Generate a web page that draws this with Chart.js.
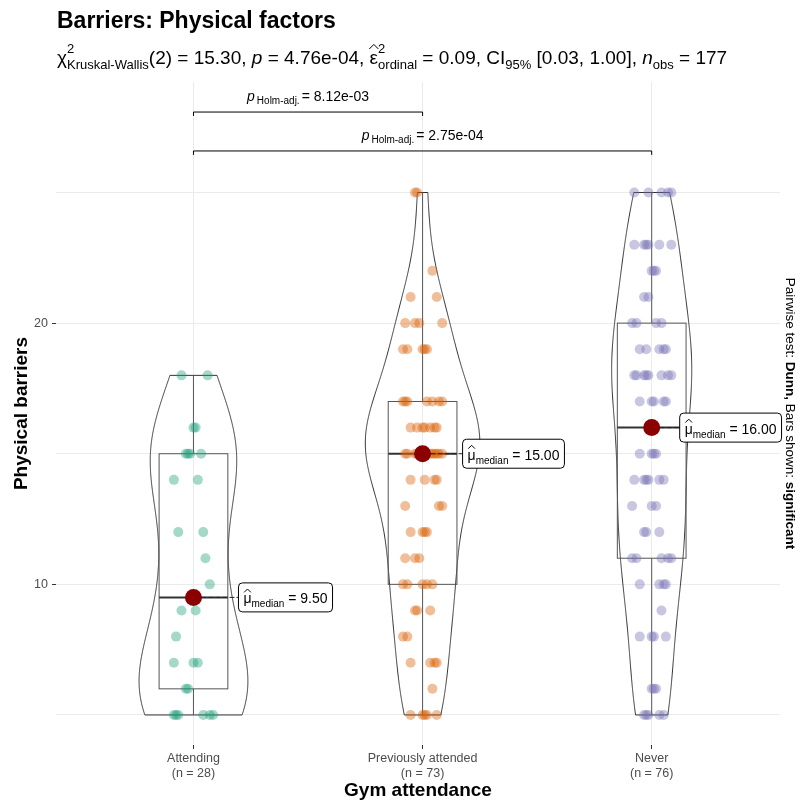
<!DOCTYPE html>
<html>
<head>
<meta charset="utf-8">
<script src="https://cdn.jsdelivr.net/npm/chart.js@4.4.1/dist/chart.umd.min.js"></script>
<style>
  html, body { margin: 0; padding: 0; background: #fff; }
</style>
</head>
<body>
<canvas id="myChart" width="804" height="805"></canvas>
<script>
const FONT = "'Liberation Sans', Arial, sans-serif";
Chart.defaults.font.family = FONT;

const groups = ['Attending', 'Previously attended', 'Never'];
const attending = [5,5,5,5,5,5, 6,6, 7,7,7, 8, 9,9, 10, 11, 12,12, 14,14, 15,15,15,15, 16,16, 18,18];
const previouslyAttended = [5,5,5,5,5, 6, 7,7,7,7, 8,8, 9,9,9, 10,10,10,10,10, 11,11,11, 12,12,12,12,
    13,13,13, 14,14,14,14, 15,15,15,15,15,15,15,15,15,15,15, 16,16,16,16,16,16,16, 17,17,17,17,17,17,17,
    19,19,19,19,19, 20,20,20,20, 21,21, 22, 25,25];
const never = [5,5,5,5,5, 6,6,6, 8,8,8,8, 9, 10,10,10,10, 11,11,11,11,11, 12,12,12, 13,13,13,
    14,14,14,14,14,14, 15,15,15,15, 17,17,17,17,17, 18,18,18,18,18,18,18,18, 19,19,19,19,19, 20,20,20,20,
    21,21, 22,22,22, 23,23,23,23,23,23, 25,25,25,25,25];
const groupValues = [attending, previouslyAttended, never];
const groupColors = ['rgba(27,158,119,0.4)', 'rgba(217,95,2,0.4)', 'rgba(117,112,179,0.4)'];

// test results as printed on the plot
const kwStat = '15.30', kwDf = '2', kwP = '4.76e-04', epsilonSq = '0.09', ci95 = '[0.03, 1.00]', nObs = '177';
const pairs = [[1, 2], [1, 3]];
const pairP = ['8.12e-03', '2.75e-04'];
const bracketY = [28.08, 26.59];
const yTicks = [5, 10, 15, 20, 25];

// fixed jitter pattern (fractions of the jitter half-width)
const jitterPattern = [-0.55, 0.35, -0.15, 0.75, -0.9, 0.1, 0.55, -0.35, 0.9, -0.7, 0.0, 0.65, -0.25, -0.8, 0.45, 0.2];
const labelGap = [45, 40, 28];

function quantile(s, p) {
    const h = (s.length - 1) * p, lo = Math.floor(h);
    const hi = Math.min(lo + 1, s.length - 1);
    return s[lo] + (h - lo) * (s[hi] - s[lo]);
}

const stats = groupValues.map(vals => {
    const s = [...vals].sort((a, b) => a - b);
    const n = s.length;
    const q1 = quantile(s, 0.25), med = quantile(s, 0.5), q3 = quantile(s, 0.75);
    const iqr = q3 - q1;
    const lowW = s.find(v => v >= q1 - 1.5 * iqr);
    const highW = [...s].reverse().find(v => v <= q3 + 1.5 * iqr);
    const mean = s.reduce((a, b) => a + b, 0) / n;
    const sd = Math.sqrt(s.reduce((a, b) => a + (b - mean) ** 2, 0) / (n - 1));
    const bw = 0.9 * Math.min(sd, iqr / 1.34) * Math.pow(n, -0.2);
    const dens = [];
    for (let i = 0; i < 512; i++) {
        const t = s[0] + (s[n - 1] - s[0]) * i / 511;
        let d = 0;
        for (const v of s) { const z = (t - v) / bw; d += Math.exp(-0.5 * z * z); }
        dens.push({ y: t, d: d / (n * bw * Math.sqrt(2 * Math.PI)) });
    }
    return { n, q1, med, q3, lowW, highW, dens };
});
const maxDens = Math.max(...stats.map(st => Math.max(...st.dens.map(p => p.d))));

function jittered(vals, gi) {
    const seen = {};
    return vals.map(v => {
        const k = seen[v] = (seen[v] || 0) + 1;
        const off = jitterPattern[(k * 5 + v * 3 + gi * 7) % 16] * 0.095;
        return { x: gi + 1 + off, y: v };
    });
}

function fnt(p) {
    return (p.italic ? 'italic ' : '') + (p.bold ? 'bold ' : '') + p.size + 'px ' + FONT;
}
function drawHat(ctx, cx, hy, size) {
    ctx.save();
    ctx.lineWidth = 1;
    ctx.beginPath();
    ctx.moveTo(cx - size * 0.24, hy + size * 0.16);
    ctx.lineTo(cx, hy - size * 0.08);
    ctx.lineTo(cx + size * 0.24, hy + size * 0.16);
    ctx.stroke();
    ctx.restore();
}
function drawRich(ctx, parts, x, y, dry) {
    let cx = x;
    for (const p of parts) {
        if (p.stack) {
            let w = 0;
            for (const s of p.stack) {
                ctx.font = fnt(s);
                if (!dry) ctx.fillText(s.t, cx, y + s.dy);
                w = Math.max(w, ctx.measureText(s.t).width);
            }
            cx += w;
            continue;
        }
        ctx.font = fnt(p);
        const w = ctx.measureText(p.t).width;
        if (!dry) {
            ctx.fillText(p.t, cx, y + (p.dy || 0));
            if (p.hat) drawHat(ctx, cx + w / 2, y - p.size * 0.95, p.size);
        }
        cx += w + (p.gap || 0);
    }
    return cx - x;
}

const ggPlugin = {
    id: 'ggstats',
    beforeDatasetsDraw(chart) {
        const { ctx, scales: { x, y } } = chart;
        ctx.save();
        stats.forEach((st, gi) => {
            const c = gi + 1;
            // violin
            ctx.beginPath();
            st.dens.forEach((p, i) => {
                const px = x.getPixelForValue(c - 0.25 * p.d / maxDens), py = y.getPixelForValue(p.y);
                i ? ctx.lineTo(px, py) : ctx.moveTo(px, py);
            });
            [...st.dens].reverse().forEach(p => {
                ctx.lineTo(x.getPixelForValue(c + 0.25 * p.d / maxDens), y.getPixelForValue(p.y));
            });
            ctx.closePath();
            ctx.strokeStyle = '#333333';
            ctx.lineWidth = 1;
            ctx.stroke();
            // box
            const xl = x.getPixelForValue(c - 0.15), xr = x.getPixelForValue(c + 0.15), xc = x.getPixelForValue(c);
            ctx.strokeStyle = '#555555';
            ctx.beginPath();
            ctx.moveTo(xc, y.getPixelForValue(st.q3)); ctx.lineTo(xc, y.getPixelForValue(st.highW));
            ctx.moveTo(xc, y.getPixelForValue(st.q1)); ctx.lineTo(xc, y.getPixelForValue(st.lowW));
            ctx.stroke();
            ctx.strokeRect(xl, y.getPixelForValue(st.q3), xr - xl, y.getPixelForValue(st.q1) - y.getPixelForValue(st.q3));
            ctx.beginPath();
            ctx.lineWidth = 2;
            ctx.strokeStyle = '#333333';
            ctx.moveTo(xl, y.getPixelForValue(st.med)); ctx.lineTo(xr, y.getPixelForValue(st.med));
            ctx.stroke();
        });
        ctx.restore();
    },
    afterDatasetsDraw(chart) {
        const { ctx, scales: { x, y } } = chart;
        ctx.save();
        ctx.fillStyle = '#000';
        ctx.textBaseline = 'alphabetic';
        // median labels
        stats.forEach((st, gi) => {
            const px = x.getPixelForValue(gi + 1), py = y.getPixelForValue(st.med);
            const parts = [{ t: 'μ', size: 14, hat: true }, { t: 'median', size: 10, dy: 4 }, { t: ' = ' + st.med.toFixed(2), size: 14 }];
            const w = drawRich(ctx, parts, 0, 0, true);
            const bx = px + labelGap[gi], bh = 29, bw = w + 10, by = py - bh / 2;
            ctx.save();
            ctx.strokeStyle = '#222';
            ctx.lineWidth = 1;
            ctx.setLineDash([5, 2]);
            ctx.beginPath();
            ctx.moveTo(px + 8, py); ctx.lineTo(bx, py);
            ctx.stroke();
            ctx.setLineDash([]);
            const r = 4;
            ctx.beginPath();
            ctx.moveTo(bx + r, by); ctx.lineTo(bx + bw - r, by); ctx.quadraticCurveTo(bx + bw, by, bx + bw, by + r);
            ctx.lineTo(bx + bw, by + bh - r); ctx.quadraticCurveTo(bx + bw, by + bh, bx + bw - r, by + bh);
            ctx.lineTo(bx + r, by + bh); ctx.quadraticCurveTo(bx, by + bh, bx, by + bh - r);
            ctx.lineTo(bx, by + r); ctx.quadraticCurveTo(bx, by, bx + r, by);
            ctx.fillStyle = '#fff';
            ctx.fill();
            ctx.strokeStyle = '#000';
            ctx.stroke();
            ctx.restore();
            drawRich(ctx, parts, bx + 5, py + 6);
        });
        // significance brackets
        ctx.strokeStyle = '#000';
        ctx.lineWidth = 1;
        pairs.forEach(([a, b], i) => {
            const x1 = x.getPixelForValue(a), x2 = x.getPixelForValue(b);
            const yb = y.getPixelForValue(bracketY[i]), yt = y.getPixelForValue(bracketY[i] - 0.15);
            ctx.beginPath();
            ctx.moveTo(x1, yt); ctx.lineTo(x1, yb); ctx.lineTo(x2, yb); ctx.lineTo(x2, yt);
            ctx.stroke();
            const parts = [{ t: 'p', size: 14, italic: true, gap: 2 }, { t: 'Holm-adj.', size: 10, dy: 3, gap: 2 }, { t: '= ' + pairP[i], size: 14 }];
            const w = drawRich(ctx, parts, 0, 0, true);
            drawRich(ctx, parts, (x1 + x2) / 2 - w / 2, yb - 11);
        });
        ctx.restore();
    },
    afterDraw(chart) {
        const { ctx, chartArea } = chart;
        ctx.save();
        ctx.fillStyle = '#000';
        ctx.textBaseline = 'alphabetic';
        ctx.font = 'bold 23px ' + FONT;
        ctx.fillText('Barriers: Physical factors', 57, 28);
        const sub = [
            { t: 'χ', size: 19 },
            { stack: [{ t: '2', size: 13, dy: -11 }, { t: 'Kruskal-Wallis', size: 13, dy: 5 }] },
            { t: '(' + kwDf + ') = ' + kwStat + ', ', size: 19 },
            { t: 'p', size: 19, italic: true },
            { t: ' = ' + kwP + ', ', size: 19 },
            { t: 'ε', size: 19, hat: true },
            { stack: [{ t: '2', size: 13, dy: -11 }, { t: 'ordinal', size: 13, dy: 5 }] },
            { t: ' = ' + epsilonSq + ', CI', size: 19 },
            { t: '95%', size: 13, dy: 5 },
            { t: ' ' + ci95 + ', ', size: 19 },
            { t: 'n', size: 19, italic: true },
            { t: 'obs', size: 13, dy: 5 },
            { t: ' = ' + nObs, size: 19 }
        ];
        drawRich(ctx, sub, 57, 64);
        // caption on the right
        const cap = [
            { t: 'Pairwise test: ', size: 13.5 }, { t: 'Dunn,', size: 13.5, bold: true },
            { t: ' Bars shown: ', size: 13.5 }, { t: 'significant', size: 13.5, bold: true }
        ];
        const cw = drawRich(ctx, cap, 0, 0, true);
        ctx.translate(786, (chartArea.top + chartArea.bottom) / 2);
        ctx.rotate(Math.PI / 2);
        drawRich(ctx, cap, -cw / 2, 0);
        ctx.restore();
    }
};

const datasets = [{
    label: 'median',
    data: stats.map((st, gi) => ({ x: gi + 1, y: st.med })),
    backgroundColor: '#8B0000',
    borderWidth: 0,
    pointRadius: 8.5
}].concat(groupValues.map((vals, gi) => ({
    label: groups[gi],
    data: jittered(vals, gi),
    backgroundColor: groupColors[gi],
    borderWidth: 0,
    pointRadius: 5
})));

new Chart(document.getElementById('myChart'), {
    type: 'scatter',
    data: { datasets },
    options: {
        responsive: false,
        animation: false,
        events: [],
        layout: { padding: { top: 82, right: 24, left: 0, bottom: 0 } },
        plugins: { legend: { display: false }, tooltip: { enabled: false } },
        scales: {
            x: {
                type: 'linear', min: 0.4, max: 3.56,
                afterBuildTicks: s => { s.ticks = [1, 2, 3].map(v => ({ value: v })); },
                afterFit: s => { s.height = 60; },
                ticks: {
                    callback: v => [groups[v - 1], '(n = ' + groupValues[v - 1].length + ')'],
                    color: '#4D4D4D', font: { size: 12.5 }, padding: 2, maxRotation: 0, autoSkip: false
                },
                grid: { color: '#EBEBEB', tickLength: 4, tickColor: '#333333' },
                border: { display: false },
                title: { display: true, text: 'Gym attendance', color: '#000', font: { size: 19, weight: 'bold' }, padding: { top: 0, bottom: 3 } }
            },
            y: {
                min: 3.85, max: 29.23,
                afterBuildTicks: s => { s.ticks = yTicks.map(v => ({ value: v })); },
                afterFit: s => { s.width = 56; },
                ticks: {
                    callback: v => (v % 10 === 0 ? String(v) : ''),
                    color: '#4D4D4D', font: { size: 12.5 }, padding: 4
                },
                grid: {
                    color: '#EBEBEB', tickLength: 4,
                    tickColor: c => (c.tick && c.tick.value % 10 === 0 ? '#333333' : 'rgba(0,0,0,0)')
                },
                border: { display: false },
                title: { display: true, text: 'Physical barriers', color: '#000', font: { size: 19, weight: 'bold' }, padding: { top: 10, bottom: 0 } }
            }
        }
    },
    plugins: [ggPlugin]
});
</script>
</body>
</html>
